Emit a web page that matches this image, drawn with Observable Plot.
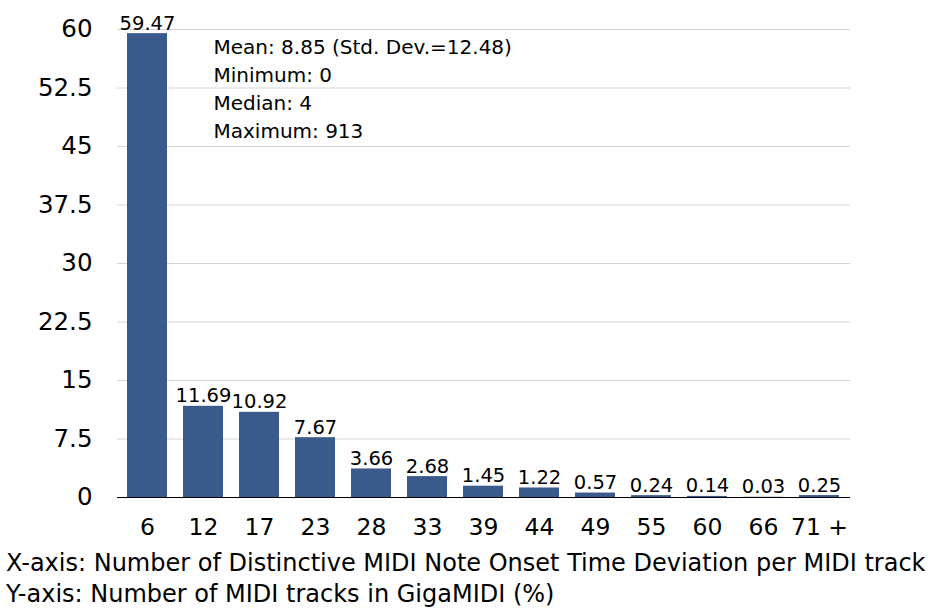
<!DOCTYPE html>
<html>
<head>
<meta charset="utf-8">
<script src="https://cdn.jsdelivr.net/npm/d3@7"></script>
<script src="https://cdn.jsdelivr.net/npm/@observablehq/plot@0.6"></script>
<style>
  body { margin: 0; background: #fff; font-family: "DejaVu Sans", sans-serif; }
  #chart svg { display: block; }
  .cap { font-size: 24px; line-height: 31px; margin-left: 6px; color: #000; white-space: nowrap; }
</style>
</head>
<body>
<div id="chart"></div>
<div class="cap" style="padding-top:3px">X-axis: Number of Distinctive MIDI Note Onset Time Deviation per MIDI track</div>
<div class="cap">Y-axis: Number of MIDI tracks in GigaMIDI (%)</div>
<script>
const categories = ["6","12","17","23","28","33","39","44","49","55","60","66","71 +"];
const values = [59.47, 11.69, 10.92, 7.67, 3.66, 2.68, 1.45, 1.22, 0.57, 0.24, 0.14, 0.03, 0.25];
const yTicks = [0, 7.5, 15, 22.5, 30, 37.5, 45, 52.5, 60];
const statsLines = ["Mean: 8.85 (Std. Dev.=12.48)", "Minimum: 0", "Median: 4", "Maximum: 913"];

const data = categories.map((c, i) => ({cat: c, val: values[i]}));

const chart = Plot.plot({
  width: 930,
  height: 545,
  marginLeft: 117,
  marginRight: 80,
  marginTop: 29,
  marginBottom: 48,
  style: {fontFamily: "'DejaVu Sans', sans-serif", background: "#fff", color: "#000"},
  x: {domain: categories, paddingInner: 0.28, paddingOuter: 0.14, label: null},
  y: {domain: [0, 60], label: null},
  marks: [
    Plot.gridY(yTicks, {stroke: "#d4d4d4", strokeOpacity: 1, strokeWidth: 1}),
    Plot.barY(data, {x: "cat", y: "val", fill: "#3a5a8c"}),
    Plot.ruleY([0], {stroke: "#000", strokeWidth: 1.2}),
    Plot.axisY(yTicks, {tickSize: 0, tickPadding: 25, fontSize: 24.5, label: null, tickFormat: d => String(d)}),
    Plot.axisX({tickSize: 0, tickPadding: 21, fontSize: 23.5, label: null}),
    Plot.text(data, {x: "cat", y: "val", text: d => d.val.toFixed(2), lineAnchor: "bottom", dy: -4, fontSize: 19.5, fill: "#000"}),
    Plot.text([statsLines.join("\n")], {frameAnchor: "top-left", textAnchor: "start", lineAnchor: "top", dx: 96, dy: 5, fontSize: 20, lineHeight: 1.4, fill: "#000"})
  ]
});
document.getElementById("chart").appendChild(chart);
</script>
</body>
</html>
